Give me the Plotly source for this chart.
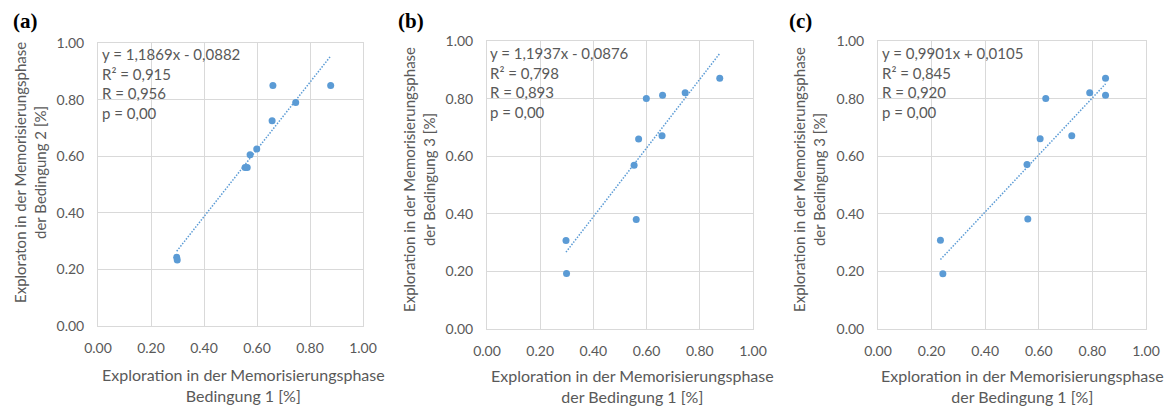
import plotly.graph_objects as go

W, H = 1170, 407

# ---------------- data ----------------
a_x = [0.660, 0.878, 0.746, 0.657, 0.599, 0.574, 0.555, 0.563, 0.297, 0.299]
a_y = [0.850, 0.850, 0.790, 0.725, 0.625, 0.605, 0.560, 0.560, 0.243, 0.233]
b_x = [0.599, 0.660, 0.745, 0.875, 0.570, 0.658, 0.553, 0.561, 0.297, 0.299]
b_y = [0.800, 0.812, 0.820, 0.871, 0.660, 0.671, 0.569, 0.380, 0.307, 0.193]
c_x = [0.849, 0.790, 0.849, 0.626, 0.605, 0.723, 0.556, 0.559, 0.233, 0.242]
c_y = [0.871, 0.820, 0.812, 0.800, 0.661, 0.671, 0.571, 0.382, 0.308, 0.192]

slopes = [1.1869, 1.1937, 0.9901]
intercepts = [-0.0882, -0.0876, 0.0105]
stats_text = [
    "y = 1,1869x - 0,0882<br>R² = 0,915<br>R = 0,956<br>p = 0,00",
    "y = 1,1937x - 0,0876<br>R² = 0,798<br>R = 0,893<br>p = 0,00",
    "y = 0,9901x + 0,0105<br>R² = 0,845<br>R = 0,920<br>p = 0,00",
]
panel_labels = ["(a)", "(b)", "(c)"]
x_titles = [
    "Exploration in der Memorisierungsphase<br>Bedingung 1 [%]",
    "Exploration in der Memorisierungsphase<br>der Bedingung 1 [%]",
    "Exploration in der Memorisierungsphase<br>der Bedingung 1 [%]",
]
y_titles = [
    "Exploraton in der Memorisierungsphase<br>der Bedingung 2 [%]",
    "Exploration in der Memorisierungsphase<br>der Bedingung 3 [%]",
    "Exploration in der Memorisierungsphase<br>der Bedingung 3 [%]",
]
tick_vals = [0.0, 0.2, 0.4, 0.6, 0.8, 1.0]
tick_text = ["0.00", "0.20", "0.40", "0.60", "0.80", "1.00"]

# ---------------- layout geometry (pixels) ----------------
plot_px = [  # x0, x1, ytop, ybottom
    (98, 363, 43, 326),
    (487, 753, 41, 329),
    (878, 1146, 41, 329),
]
xtitle_pos = [(243, 385), (632, 386), (1022, 386)]
ytitle_pos = [(30, 173), (419, 180), (809, 180)]
label_pos = [(25, 21), (411, 21), (800, 21)]
stats_pos = [(100, 43), (488, 42), (880, 42)]

FONT = "Lato"
GRAY = "#595959"
BLUE = "#5b9bd5"
GRID = "#d9d9d9"

def px(x):
    return x / W

def py(y):
    return 1 - y / H

fig = go.Figure()
series = [(a_x, a_y), (b_x, b_y), (c_x, c_y)]
annotations = []
for i, (xs, ys) in enumerate(series):
    xa = "x" if i == 0 else f"x{i+1}"
    ya = "y" if i == 0 else f"y{i+1}"
    fig.add_trace(go.Scatter(x=xs, y=ys, mode="markers", xaxis=xa, yaxis=ya,
                             marker=dict(color=BLUE, size=7), showlegend=False))
    lo, hi = min(xs), max(xs)
    fig.add_trace(go.Scatter(x=[lo, hi],
                             y=[slopes[i] * lo + intercepts[i], slopes[i] * hi + intercepts[i]],
                             mode="lines", xaxis=xa, yaxis=ya,
                             line=dict(color=BLUE, width=1.5, dash="1.5px,1.5px"), showlegend=False))
    x0, x1, yt, yb = plot_px[i]
    axis_common = dict(range=[0, 1], tickvals=tick_vals, ticktext=tick_text,
                       showgrid=True, gridcolor=GRID, gridwidth=1,
                       showline=True, linecolor=GRID, linewidth=1, mirror=True,
                       zeroline=False, ticks="", fixedrange=True, automargin=False,
                       tickfont=dict(family=FONT, size=14, color=GRAY))
    fig.update_layout(**{
        ("xaxis" if i == 0 else f"xaxis{i+1}"): dict(domain=[px(x0), px(x1)], anchor=ya,
                                                     ticklabelstandoff=9, **axis_common),
        ("yaxis" if i == 0 else f"yaxis{i+1}"): dict(domain=[py(yb), py(yt)], anchor=xa,
                                                     ticklabelstandoff=10, **axis_common),
    })
    annotations.append(dict(text=stats_text[i], x=px(stats_pos[i][0]), y=py(stats_pos[i][1]),
                            xref="paper", yref="paper", xanchor="left", yanchor="top",
                            align="left", showarrow=False,
                            font=dict(family=FONT, size=15, color=GRAY)))
    annotations.append(dict(text=x_titles[i], x=px(xtitle_pos[i][0]), y=py(xtitle_pos[i][1]),
                            xref="paper", yref="paper", xanchor="center", yanchor="middle",
                            align="center", showarrow=False,
                            font=dict(family=FONT, size=16, color=GRAY)))
    annotations.append(dict(text=y_titles[i], x=px(ytitle_pos[i][0]), y=py(ytitle_pos[i][1]),
                            xref="paper", yref="paper", xanchor="center", yanchor="middle",
                            align="center", showarrow=False, textangle=-90,
                            font=dict(family=FONT, size=15, color=GRAY)))
    annotations.append(dict(text="<b>" + panel_labels[i] + "</b>",
                            x=px(label_pos[i][0]), y=py(label_pos[i][1]),
                            xref="paper", yref="paper", xanchor="center", yanchor="middle",
                            showarrow=False,
                            font=dict(family="Liberation Serif", size=21, color="black")))

fig.update_layout(width=W, height=H,
                  margin=dict(l=0, r=0, t=0, b=0, autoexpand=False),
                  paper_bgcolor="white", plot_bgcolor="white",
                  annotations=annotations, showlegend=False)
fig.write_html("out.html", config={"displayModeBar": False},
               post_script="document.body.style.margin='0px';document.body.style.overflow='hidden';")
